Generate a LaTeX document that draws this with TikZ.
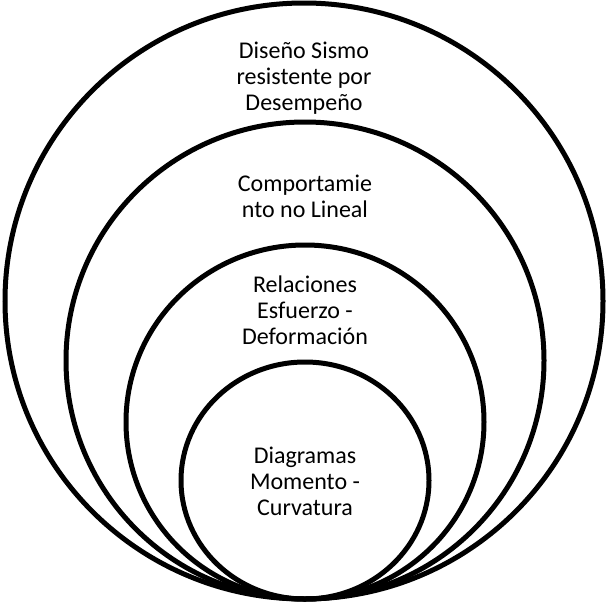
\documentclass[tikz,border=0pt]{standalone}
\usepackage{fontspec}
\setmainfont{Carlito}
\usetikzlibrary{shapes.geometric}

\begin{document}
\begin{tikzpicture}[x=1pt, y=-1pt,
  ovalbox/.style={draw, ellipse, line width=5pt, inner sep=0pt},
  lblbox/.style={align=center, inner sep=0pt, font=\fontsize{24}{26}\selectfont}
]
  \useasboundingbox (0,0) rectangle (608,603);
  % nested rings, all touching at the bottom
  \node[ovalbox, minimum width=598pt, minimum height=596pt] (ringA) at (304,301) {};
  \node[ovalbox, minimum width=478pt, minimum height=477pt] (ringB) at (305,360.5) {};
  \node[ovalbox, minimum width=358pt, minimum height=354pt] (ringC) at (305,422) {};
  \node[ovalbox, minimum width=248pt, minimum height=237pt] (ringD) at (305,480.5) {};
  % labels
  \node[lblbox] (lblA) at (304,78) {Diseño Sismo\\resistente por\\Desempeño};
  \node[lblbox] (lblB) at (305,196) {Comportamie\\nto no Lineal};
  \node[lblbox] (lblC) at (305,310) {Relaciones\\Esfuerzo -\\Deformación};
  \node[lblbox] (lblD) at (305,481) {Diagramas\\Momento -\\Curvatura};
\end{tikzpicture}
\end{document}
